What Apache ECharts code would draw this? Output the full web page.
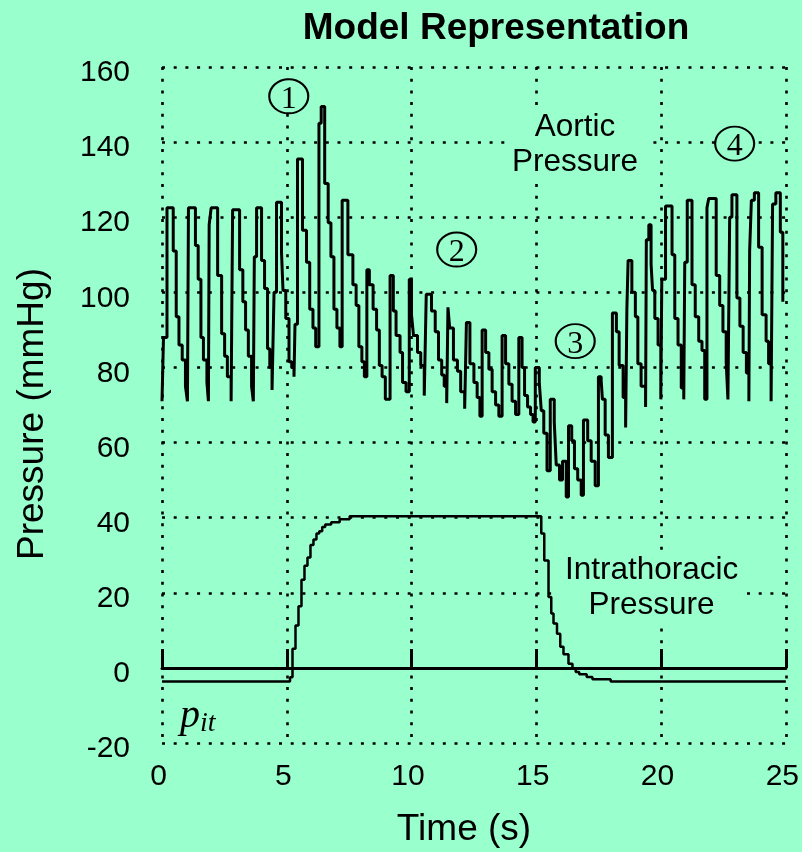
<!DOCTYPE html>
<html>
<head>
<meta charset="utf-8">
<title>Model Representation</title>
<script src="https://cdn.jsdelivr.net/npm/echarts@6/dist/echarts.min.js"></script>
<style>
  html, body { margin: 0; padding: 0; background: #99ffcc; }
  #chart { width: 802px; height: 852px; }
</style>
</head>
<body>
<div id="chart"></div>
<script>
// aortic pressure trace, [time (s), pressure (mmHg)], value held until the next point
const aorticPressure = [
  [0, 71], [0.06, 88], [0.20, 122.5],
  [0.45, 111], [0.57, 93.5], [0.68, 86], [0.81, 82], [0.94, 75], [1.02, 71],
  [1.06, 122.5],
  [1.34, 112.5], [1.45, 103.5], [1.56, 88], [1.66, 82], [1.80, 76], [1.86, 71],
  [1.89, 118], [1.97, 122.5],
  [2.23, 104.5], [2.39, 89], [2.51, 83], [2.62, 77.5], [2.77, 71],
  [2.83, 122],
  [3.11, 106], [3.24, 97.5], [3.35, 90], [3.46, 83], [3.59, 75], [3.66, 71],
  [3.70, 109.5], [3.79, 122.5],
  [3.99, 108.5], [4.11, 101], [4.23, 85], [4.32, 80], [4.41, 74],
  [4.49, 100], [4.59, 124],
  [4.79, 110.5], [4.85, 100.5], [4.96, 93], [5.09, 81.5], [5.20, 80], [5.29, 77.5],
  [5.33, 91.5], [5.43, 135.5],
  [5.63, 116.5], [5.79, 108], [5.92, 95.5], [6.05, 90.5], [6.16, 85.5],
  [6.29, 145], [6.38, 149.5],
  [6.52, 129], [6.66, 118.5], [6.77, 109.5], [6.89, 95.5], [7.01, 90.5], [7.13, 85.5],
  [7.22, 124.5],
  [7.45, 110], [7.65, 102], [7.78, 96.5], [7.89, 85.5], [8.01, 81.5], [8.11, 77.5],
  [8.21, 106],
  [8.31, 102], [8.46, 95.5], [8.60, 90], [8.71, 80.5], [8.82, 77.5], [8.95, 71.5],
  [9.14, 104.5],
  [9.27, 95], [9.38, 88.5], [9.54, 84], [9.64, 76], [9.78, 73.5],
  [9.91, 103.5],
  [10.00, 94], [10.08, 88.5], [10.24, 84], [10.37, 80.5], [10.51, 72.5],
  [10.59, 99.5],
  [10.80, 95], [10.95, 89.5], [11.08, 82], [11.21, 78], [11.31, 75], [11.41, 70.5],
  [11.46, 96],
  [11.53, 90.5], [11.68, 82], [11.84, 79], [11.97, 73.5], [12.13, 69],
  [12.20, 92],
  [12.34, 81], [12.50, 76], [12.63, 72], [12.74, 67],
  [12.83, 90],
  [12.97, 84], [13.10, 79.5], [13.23, 73.5], [13.37, 70], [13.50, 67],
  [13.63, 88.5],
  [13.77, 81], [13.90, 75.5], [14.03, 71], [14.17, 67.5],
  [14.30, 88],
  [14.43, 80], [14.53, 72.5], [14.65, 69.5], [14.77, 67.5], [14.87, 65.5],
  [14.96, 80],
  [15.12, 76], [15.20, 68.5], [15.30, 62.5], [15.43, 52.5],
  [15.56, 71.5],
  [15.72, 65.5], [15.80, 54], [15.93, 50],
  [16.05, 55], [16.20, 45.5],
  [16.29, 64.5],
  [16.42, 60.5], [16.53, 53], [16.66, 50], [16.80, 46],
  [16.89, 66],
  [17.06, 60.5], [17.20, 55], [17.36, 48.5],
  [17.49, 77.5],
  [17.60, 76.5], [17.65, 71.5], [17.76, 62], [17.89, 56],
  [18.05, 94.5],
  [18.21, 89.5], [18.32, 80.5], [18.48, 72], [18.58, 64],
  [18.63, 95.5], [18.68, 108.5],
  [18.83, 100], [18.97, 93.5], [19.07, 81], [19.20, 75], [19.38, 69.5],
  [19.41, 114], [19.51, 118],
  [19.60, 107.5], [19.66, 100.5], [19.75, 93], [19.88, 86], [19.99, 71.5],
  [20.03, 103.5], [20.18, 123],
  [20.44, 110], [20.55, 93], [20.68, 86], [20.81, 74.5], [20.91, 71.5],
  [20.95, 108], [21.05, 124.5],
  [21.24, 102], [21.37, 93.5], [21.51, 87], [21.64, 84.5], [21.75, 71.5],
  [21.84, 122.5], [21.91, 125],
  [22.21, 104.5], [22.35, 96.5], [22.48, 89.5], [22.61, 81.5], [22.68, 71.5],
  [22.75, 120], [22.84, 126],
  [23.04, 98.5], [23.16, 91], [23.29, 84], [23.42, 78.5], [23.52, 71],
  [23.55, 111], [23.62, 124.5], [23.74, 126.5],
  [23.91, 112], [24.05, 94], [24.21, 87], [24.31, 81], [24.41, 71],
  [24.47, 123.5], [24.60, 126.5],
  [24.78, 116], [24.88, 97.5]
];

// intrathoracic pressure p_it, [time (s), pressure (mmHg)]
const intrathoracicPressure = [
  [0, -3.6], [5.13, -2.5], [5.23, 5.1], [5.35, 11.3], [5.47, 16.4], [5.59, 23.5],
  [5.71, 27.2], [5.83, 29.4], [5.95, 32.7], [6.07, 34.2], [6.19, 35.8], [6.30, 36.4],
  [6.42, 37.5], [6.54, 38.2], [6.78, 38.8], [7.12, 39.6], [7.52, 40.4],
  [15.20, 35.8], [15.32, 28.6], [15.49, 18.9], [15.60, 14.5], [15.69, 11.8],
  [15.83, 9.1], [15.96, 5.6], [16.09, 3.6], [16.29, 1.1], [16.45, -0.2],
  [16.58, -1.1], [16.72, -1.7], [17.02, -2.4], [17.25, -3.0], [17.98, -3.6],
  [25, -3.6]
];

const timeRange = [0, 25];
const pressureRange = [-20, 160];

const BG = '#99ffcc';
const SANS = '"Liberation Sans", Arial, sans-serif';
const SERIF = '"Liberation Serif", "Times New Roman", serif';
const dotted = { color: '#000', width: 2.6, type: [3, 8.7] };
const ellipse = 'path://M0,50A50,50 0 1,1 100,50A50,50 0 1,1 0,50Z';

function circled(num, coord) {
  return {
    coord: coord,
    symbol: ellipse,
    symbolSize: [39, 34],
    itemStyle: { color: BG, borderColor: '#000', borderWidth: 2 },
    label: {
      show: true, position: 'inside', formatter: num, offset: [0, 3],
      fontFamily: SERIF, fontSize: 32, color: '#000'
    }
  };
}

function note(text, coord, label) {
  return {
    coord: coord,
    symbol: 'rect',
    symbolSize: 1,
    itemStyle: { color: 'rgba(0,0,0,0)' },
    label: Object.assign({
      show: true, position: 'inside', formatter: text,
      fontFamily: SANS, fontSize: 31.5, lineHeight: 35, color: '#000',
      backgroundColor: BG, padding: [2, 6]
    }, label)
  };
}

const chart = echarts.init(document.getElementById('chart'));

const option = {
  backgroundColor: BG,
  animation: false,
  title: {
    text: 'Model Representation',
    left: 491,
    top: 5,
    textAlign: 'center',
    textStyle: { fontFamily: SANS, fontSize: 37, fontWeight: 'bold', color: '#000' }
  },
  grid: { left: 162, top: 67, width: 626, height: 676 },
  xAxis: [{
    type: 'value',
    min: timeRange[0],
    max: timeRange[1],
    interval: 5,
    position: 'bottom',
    axisLine: { show: false, onZero: false },
    axisTick: { show: false },
    axisLabel: {
      color: '#000', margin: 19,
      formatter: '{v|{value}}',
      rich: { v: { fontFamily: SANS, fontSize: 30, color: '#000', padding: [0, 7, 0, 0] } }
    },
    splitLine: { show: true, lineStyle: dotted }
  }, {
    // the solid zero line with its short ticks
    type: 'value',
    min: timeRange[0],
    max: timeRange[1],
    interval: 5,
    position: 'bottom',
    axisLine: { show: true, onZero: true, lineStyle: { color: '#000', width: 3 } },
    axisTick: { show: true, inside: true, length: 19, lineStyle: { color: '#000', width: 3 } },
    axisLabel: { show: false },
    splitLine: { show: false }
  }],
  yAxis: {
    type: 'value',
    min: pressureRange[0],
    max: pressureRange[1],
    interval: 20,
    axisLine: { show: false },
    axisTick: { show: false },
    axisLabel: {
      color: '#000', margin: 32,
      formatter: '{v|{value}}',
      rich: { v: { fontFamily: SANS, fontSize: 30, color: '#000', padding: [12, 0, 0, 0] } }
    },
    splitLine: { show: true, lineStyle: dotted }
  },
  graphic: [{
    type: 'text',
    x: 33, y: 414, rotation: Math.PI / 2,
    style: { text: 'Pressure (mmHg)', fontFamily: SANS, fontSize: 37, fill: '#000', align: 'center', verticalAlign: 'middle' }
  }, {
    type: 'text',
    x: 464, y: 830,
    style: { text: 'Time (s)', fontFamily: SANS, fontSize: 37, fill: '#000', align: 'center', verticalAlign: 'middle' }
  }],
  series: [{
    name: 'Intrathoracic Pressure',
    type: 'line',
    step: 'end',
    clip: true,
    data: intrathoracicPressure,
    showSymbol: false,
    lineStyle: { color: '#000', width: 2.5 },
    z: 3
  }, {
    name: 'Aortic Pressure',
    type: 'line',
    step: 'end',
    clip: true,
    data: aorticPressure,
    showSymbol: false,
    symbol: 'none',
    lineStyle: { color: '#000', width: 3 },
    z: 4,
    markPoint: {
      silent: true,
      data: [
        circled('1', [5.08, 152.2]),
        circled('2', [11.81, 111.4]),
        circled('3', [16.56, 87.0]),
        circled('4', [22.95, 139.6]),
        note('Aortic\nPressure', [16.75, 139.4], { padding: [4, 14, 4, 4] }),
        note('Intrathoracic\nPressure', [19.62, 21.2]),
        note('{p|p}{s|it}', [1.43, -12.9], {
          backgroundColor: 'transparent',
          rich: {
            p: { fontFamily: SERIF, fontStyle: 'italic', fontSize: 40, color: '#000' },
            s: { fontFamily: SERIF, fontStyle: 'italic', fontSize: 28, color: '#000', padding: [14, 0, 0, 0] }
          }
        })
      ]
    }
  }]
};

chart.setOption(option);
</script>
</body>
</html>
